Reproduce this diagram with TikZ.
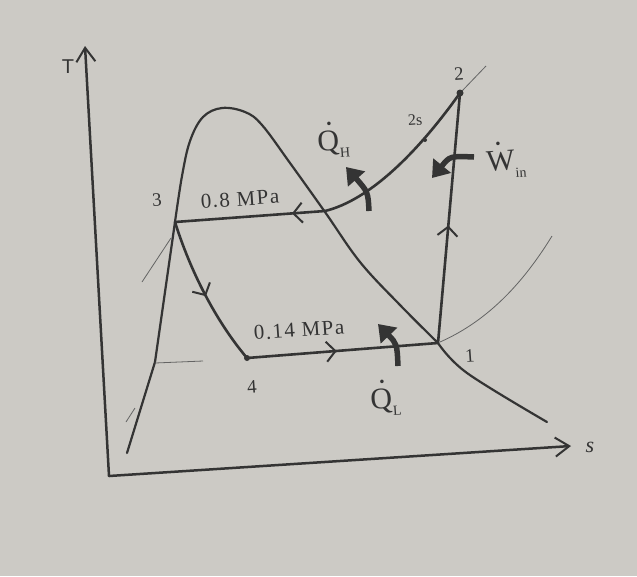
\documentclass[tikz,border=0pt]{standalone}
\usepackage{fontspec}
\setmainfont{Liberation Serif}
\setsansfont{Liberation Sans}
\usetikzlibrary{arrows.meta,decorations.markings}
\definecolor{paper}{RGB}{204,202,197}
\definecolor{ink}{RGB}{52,52,52}
\definecolor{thinink}{RGB}{100,100,100}
\newcommand\dotted[1]{\leavevmode\rlap{\hspace{0.3em}\raisebox{0.85em}{.}}#1}
\newcommand\lowsub[1]{\raisebox{-0.25em}{\fontsize{14}{14}\selectfont #1}}
\begin{document}
\begin{tikzpicture}[x=1pt,y=-1pt,
  inkline/.style={draw=ink, line width=2.6pt, line cap=round, line join=round},
  dome/.style={draw=ink, line width=2.2pt, line join=round, line cap=round},
  thinline/.style={draw=thinink, line width=0.8pt},
  axis/.style={draw=ink, line width=2.5pt, line cap=round, -{Straight Barb[length=14pt,width=19pt,line width=2pt]}},
  midarrow/.style={postaction=decorate, decoration={markings, mark=at position #1 with {\arrow{Straight Barb[length=9pt,width=20pt,line width=2pt]}}}},
  heat/.style={draw=ink, line width=5.5pt, -{Triangle[length=16pt,width=22pt]}},
  lbl/.style={text=ink, inner sep=0pt, rotate=4, font=\fontsize{19}{21}\selectfont},
  plbl/.style={text=ink, inner sep=0pt, rotate=4, font=\fontsize{21}{23}\selectfont\addfontfeature{LetterSpace=7}},
  bigl/.style={text=ink, inner sep=0pt, rotate=4, font=\fontsize{30}{32}\selectfont},
  ptdot/.style={circle, fill=ink, inner sep=0pt, minimum size=6pt}
]
\fill[paper] (0,0) rectangle (637,576);
\useasboundingbox (0,0) rectangle (637,576);

% axes
\coordinate (O) at (109,476);
\coordinate (Tend) at (85,46);
\coordinate (Send) at (571,446);
\draw[axis] (O) -- (Tend);
\draw[axis] (O) -- (Send);

% saturation dome
\draw[dome] (127,453) -- (155,362) -- (175,222)
  -- plot[smooth, tension=0.6] coordinates {(175,222) (182,176) (190,141) (203,117) (222,108) (245,112) (262,125) (290,163) (325,212) (360,262) (400,305) (438,343)}
  -- plot[smooth, tension=0.6] coordinates {(438,343) (467,373) (547,422)};

% thin auxiliary lines
\draw[thinline] (155,363) -- (203,361);
\draw[thinline] (126,422) -- (135,408);
\draw[thinline] (142,282) -- (171,238);
\draw[thinline] (440,342) .. controls (490,320) and (525,280) .. (552,236);
\draw[thinline] (462,91) -- (486,66);

% state points
\coordinate (p1) at (438,343);
\node[ptdot, minimum size=7pt] (p2) at (460,93) {};
\node[ptdot, minimum size=4pt] (p2s) at (425,140) {};
\coordinate (p3) at (175,222);
\node[ptdot] (p4) at (247,358) {};
\coordinate (c23) at (325,211);

% cycle
\draw[inkline, midarrow=0.47] (p1) -- (p2.center);
\draw[inkline] (p2.center) .. controls (418,152) and (370,200) .. (c23);
\draw[inkline, midarrow=0.22] (c23) -- (p3);
\draw[inkline, midarrow=0.52] (p3) .. controls (190,270) and (215,320) .. (p4.center);
\draw[inkline, midarrow=0.47] (p4.center) -- (p1);

% heat and work arrows
\coordinate (qh0) at (369,211);
\coordinate (qh1) at (346,167);
\draw[heat] (qh0) .. controls (368,192) .. (qh1);
\coordinate (ql0) at (398,366);
\coordinate (ql1) at (378,324);
\draw[heat] (ql0) .. controls (397,344) .. (ql1);
\coordinate (w0) at (474,157);
\coordinate (w1) at (432,178);
\draw[heat] (w0) .. controls (450,156) .. (w1);

% labels
\node[text=ink, inner sep=0pt, font=\sffamily\fontsize{20}{22}\selectfont] (lT) at (68,67) {T};
\node[text=ink, inner sep=0pt, font=\itshape\fontsize{22}{24}\selectfont] (ls) at (590,447) {s};
\node[lbl] (l2) at (459,74) {2};
\node[lbl, font=\fontsize{16}{18}\selectfont] (l2s) at (415,120) {2s};
\node[lbl] (l1) at (470,356) {1};
\node[lbl] (l3) at (157,200) {3};
\node[lbl] (l4) at (252,387) {4};
\node[plbl] (lhp) at (240,199) {0.8 MPa};
\node[plbl] (llp) at (299,330) {0.14 MPa};
\node[bigl, anchor=base west] (lqh) at (318,152) {\dotted{Q}\lowsub{H}};
\node[bigl, anchor=base west] (lql) at (371,410) {\dotted{Q}\lowsub{L}};
\node[bigl, anchor=base west] (lw) at (487,172) {\dotted{W}\lowsub{in}};
\end{tikzpicture}
\end{document}
